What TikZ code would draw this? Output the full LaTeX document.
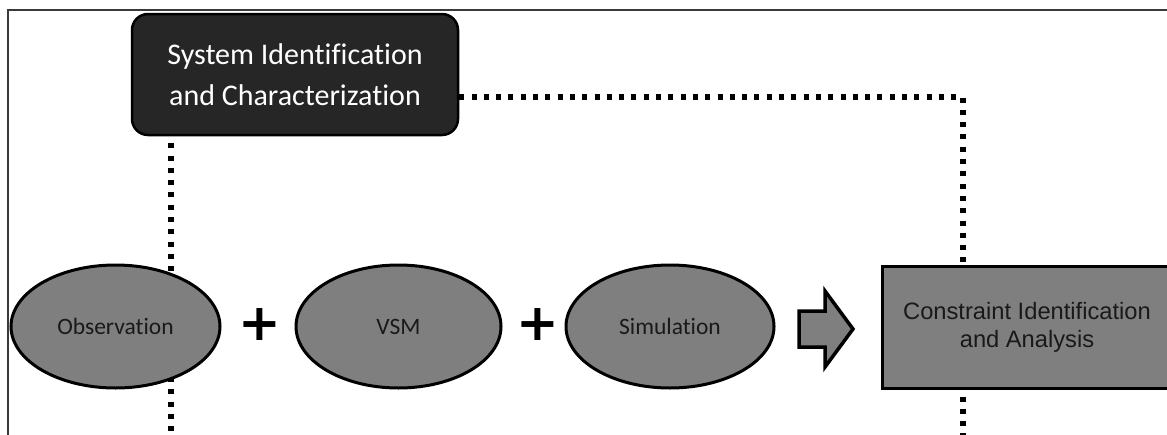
\documentclass[tikz,border=0pt]{standalone}
\usepackage{fontspec}
\setmainfont{Carlito}[Ligatures=NoCommon]
\newfontfamily\arialfont{Liberation Sans}
\newfontfamily\plusfont{DejaVu Sans}
\usetikzlibrary{shapes.geometric}
\pgfdeclarelayer{bg}
\pgfsetlayers{bg,main}
\definecolor{darkfill}{HTML}{262626}
\definecolor{midgray}{HTML}{7F7F7F}
\definecolor{framegray}{HTML}{3A3A3A}
\tikzset{
  darkbox/.style={rectangle, rounded corners=16pt, draw=black, line width=2.5pt,
    fill=darkfill, text=white, align=center, minimum width=326pt, minimum height=121pt,
    inner sep=0pt, font=\fontsize{30}{41}\selectfont},
  source/.style={ellipse, draw=black, line width=3pt, fill=midgray, inner sep=0pt,
    minimum height=123pt, font=\fontsize{23.5}{27}\selectfont, text=black!90},
  resultbox/.style={rectangle, draw=black, line width=3pt, fill=midgray, align=center,
    minimum width=290pt, minimum height=122pt, inner sep=0pt,
    font=\arialfont\fontsize{23.7}{28}\selectfont, text=black!90},
  plussign/.style={inner sep=0pt, font=\plusfont\bfseries\fontsize{51}{51}\selectfont},
  dotline/.style={line width=5.5pt, dash pattern=on 5pt off 7.3pt, black},
  blockarrow/.style={draw=black, line width=3.5pt, fill=midgray, line join=miter},
}
\begin{document}
\begin{tikzpicture}[x=1pt,y=-1pt]
\useasboundingbox (0,0) rectangle (1167,434);
\clip (0,0) rectangle (1167,434);

% open frame: left and top edges
\draw[framegray, line width=1.5pt] (8,440) -- (8,10) -- (1175,10);

% nodes
\node[darkbox] (sys) at (295,74.5) {System Identification\\and Characterization};
\node[source, minimum width=209pt] (obs) at (115.5,326.5) {Observation};
\node[plussign] (p1) at (260,325) {+};
\node[source, minimum width=205pt] (vsm) at (398.5,326.5) {VSM};
\node[plussign] (p2) at (538,325) {+};
\node[source, minimum width=208pt] (sim) at (670,326.5) {Simulation};
\node[resultbox] (cons) at (1027,327) {Constraint Identification\\and Analysis};

% block arrow towards the result box
\coordinate (ar) at (799,329);
\draw[blockarrow] (ar) ++(0,-18) -- ++(26,0) -- ++(0,-20) -- ++(28,38)
  -- ++(-28,38) -- ++(0,-20) -- ++(-26,0) -- cycle;

% dotted links behind the shapes
\coordinate (lbot) at (171,440);
\coordinate (knee) at (963,97);
\coordinate (rbot) at (963,440);
\begin{pgfonlayer}{bg}
  \draw[dotline, shorten <=7pt] (sys.south -| lbot) -- (lbot);
  \draw[dotline] (sys.east |- knee) -- (knee) -- (knee |- cons.north);
  \draw[dotline, shorten <=7pt] (cons.south -| rbot) -- (rbot);
\end{pgfonlayer}
\end{tikzpicture}
\end{document}
